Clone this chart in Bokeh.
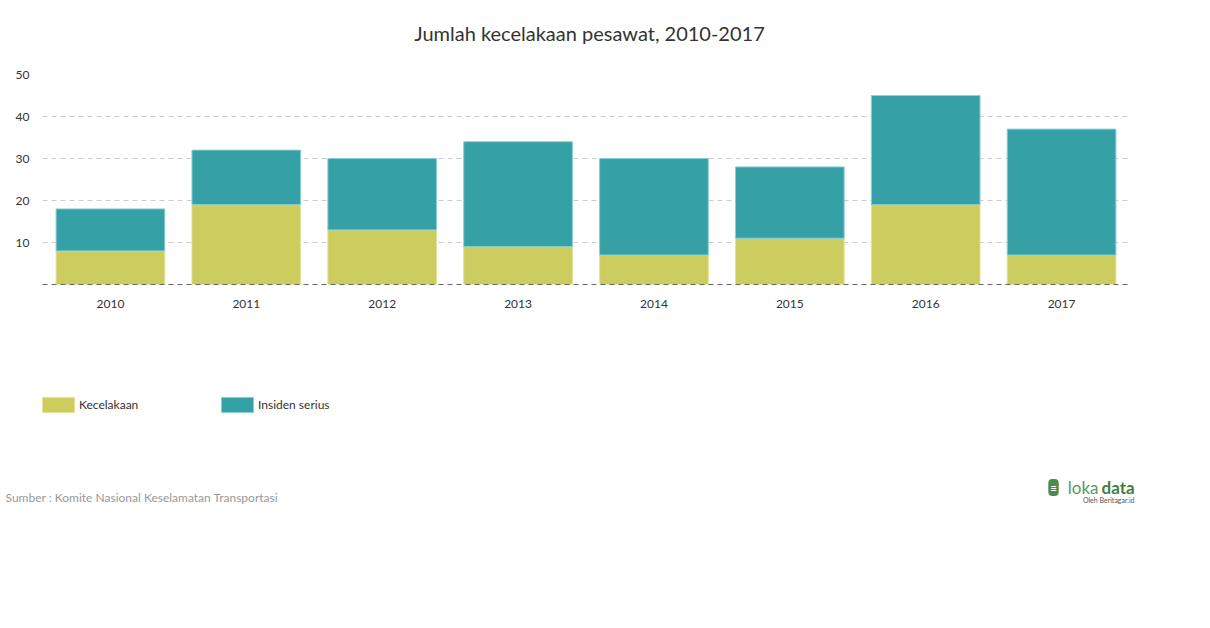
from bokeh.plotting import figure
from bokeh.layouts import column
from bokeh.models import Range1d, FactorRange, Label, Legend, LegendItem, FixedTicker, ColumnDataSource
from bokeh.embed import file_html
from bokeh.resources import INLINE

# ---- data ----
years = ["2010", "2011", "2012", "2013", "2014", "2015", "2016", "2017"]
kecelakaan = [8, 19, 13, 9, 7, 11, 19, 7]
insiden_serius = [10, 13, 17, 25, 23, 17, 26, 30]
y_ticks = [10, 20, 30, 40, 50]
series_names = ["Kecelakaan", "Insiden serius"]
title_text = "Jumlah kecelakaan pesawat, 2010-2017"
source_text = "Sumber : Komite Nasional Keselamatan Transportasi"

FONT = "Lato"
fill_colors = ["#cccc5f", "#35a1a6"]
line_colors = ["#e3e39a", "#8ccfd2"]
W = 1202


def blank(h):
    f = figure(width=W, height=h, x_range=Range1d(0, W), y_range=Range1d(h, 0),
               x_axis_type=None, y_axis_type=None, output_backend="svg",
               toolbar_location=None, min_border=0, outline_line_color=None,
               frame_align=False)
    return f


# ---- title strip ----
top = blank(66)
top.add_layout(Label(
    x=589, y=32, text=title_text, text_align="center", text_baseline="middle",
    text_font=FONT, text_font_size="20px", text_color="#333333",
))

# ---- main chart ----
src = ColumnDataSource(dict(years=years, kecelakaan=kecelakaan, insiden=insiden_serius))

p = figure(
    x_range=FactorRange(*years),
    y_range=Range1d(0, 50),
    width=W, height=254,
    output_backend="svg", toolbar_location=None,
    min_border_left=42, min_border_right=73,
    min_border_top=8, min_border_bottom=36,
    outline_line_color=None, frame_align=False,
)

bars = p.vbar_stack(
    ["kecelakaan", "insiden"], x="years", width=0.8, source=src,
    fill_color=fill_colors, line_color=line_colors, line_width=1,
)

p.xgrid.visible = False
p.ygrid.ticker = FixedTicker(ticks=y_ticks)
p.ygrid.grid_line_color = "#cccccc"
p.ygrid.grid_line_dash = "5 4"

p.yaxis.ticker = FixedTicker(ticks=y_ticks)
p.yaxis.axis_line_color = None
p.yaxis.major_tick_line_color = None
p.yaxis.minor_tick_line_color = None
p.yaxis.major_label_standoff = 7
p.yaxis.major_label_text_font = FONT
p.yaxis.major_label_text_font_size = "12px"
p.yaxis.major_label_text_color = "#333333"

p.xaxis.axis_line_color = "#666666"
p.xaxis.axis_line_dash = "5 4"
p.xaxis.major_tick_line_color = None
p.xaxis.minor_tick_line_color = None
p.xaxis.major_label_standoff = 9
p.xaxis.major_label_text_font = FONT
p.xaxis.major_label_text_font_size = "12px"
p.xaxis.major_label_text_color = "#333333"

# ---- legend + footer strip ----
bot = blank(220)
# legend-only swatch renderers (hidden; they only carry the series styles)
swatches = [bot.vbar(x=[0], top=[kecelakaan[0]], width=1, fill_color=fill_colors[i],
                     line_color=line_colors[i], visible=False)
            for i in range(2)]
legend = Legend(
    items=[LegendItem(label=series_names[i], renderers=[swatches[i]]) for i in range(2)],
    orientation="horizontal", location=(38, 126),
    glyph_width=40, glyph_height=19, label_width=138, label_height=19,
    label_standoff=1, spacing=0, padding=0, margin=0,
    border_line_color=None, background_fill_alpha=0,
    inactive_fill_alpha=0,
    label_text_font=FONT, label_text_font_size="12px", label_text_color="#333333",
)
bot.add_layout(legend)

bot.add_layout(Label(
    x=5, y=177, text=source_text, text_align="left", text_baseline="middle",
    text_font=FONT, text_font_size="12px", text_color="#999999",
))

# lokadata mark
bot.add_layout(Label(
    x=1053, y=167, text="≡", text_align="center", text_baseline="middle",
    text_font=FONT, text_font_size="11px", text_color="#ffffff", text_font_style="bold",
    background_fill_color="#4a8c4a", border_radius=4, padding=2,
))
bot.add_layout(Label(
    x=1098, y=167, text="loka", text_align="right", text_baseline="middle",
    text_font=FONT, text_font_size="17px", text_color="#5a9a5a",
))
bot.add_layout(Label(
    x=1101, y=167, text="data", text_align="left", text_baseline="middle",
    text_font=FONT, text_font_size="17px", text_color="#3f7f3f", text_font_style="bold",
))
bot.add_layout(Label(
    x=1134, y=179, text="Oleh Beritagar.id", text_align="right", text_baseline="middle",
    text_font=FONT, text_font_size="7px", text_color="#555555",
))

layout = column(top, p, bot, spacing=0)
open("out.html", "w").write(file_html(layout, INLINE))
